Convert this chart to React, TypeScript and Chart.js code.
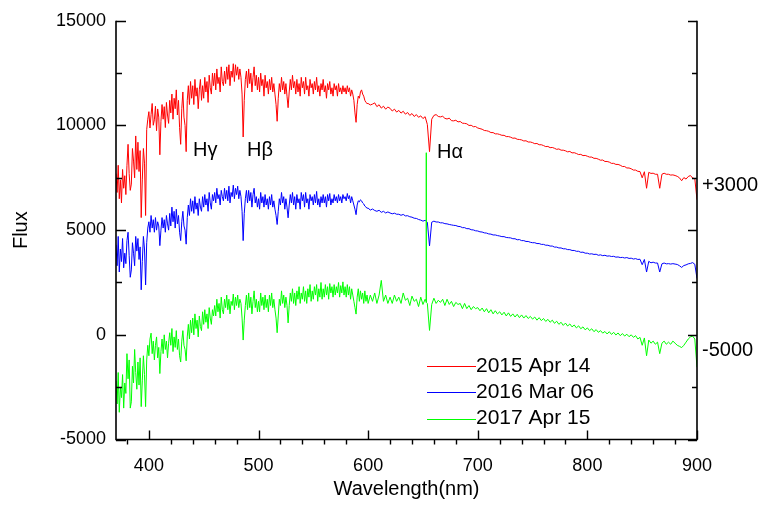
import { useEffect, useRef } from "react";
import { Chart, registerables } from "chart.js";

Chart.register(...registerables);

const FONT = '"Liberation Sans", Arial, Helvetica, sans-serif';

// Blue part of the spectra: 370-599 nm every 1 nm
const denseStart = 370;
const denseStep = 1;
// Red part: 600-900 nm every 2 nm
const sparseStart = 600;
const sparseStep = 2;

// ---- 2015 Apr 14 (+3000) ----
const apr2015Blue = [
  7700, 6800, 8100, 6500, 7400, 6300, 7900, 7000, 7600, 6700,
  8100, 9100, 7700, 6900, 7200, 8900, 8300, 7500, 9500, 7900,
  9200, 7800, 8800, 5600, 7400, 8900, 8200, 5700, 9800, 10300,
  10660, 9880, 10530, 11050, 10010, 10270, 10920, 9750, 10790, 10400,
  8600, 10200, 11000, 10300, 10900, 9900, 11100, 10500, 10100, 11200,
  10600, 11500, 10300, 11300, 10800, 11700, 10500, 11200, 9900, 9100,
  10800, 11600, 10400, 10000, 8750, 11200, 11900, 11000, 12100, 11300,
  11900, 11000, 12200, 11400, 11800, 10800, 11700, 12200, 11200, 11900,
  11300, 12300, 11600, 12100, 11100, 12400, 11800, 11500, 12500, 11900,
  12500, 11700, 12700, 12000, 12300, 11600, 12800, 12100, 11900, 12600,
  12000, 12800, 12200, 12900, 11900, 12600, 12300, 12950, 12100, 12900,
  12400, 12800, 12200, 12700, 12300, 11500, 9450, 11200, 12200, 12600,
  11800, 12700, 12000, 12500, 11600, 12300, 12800, 11900, 12400, 11700,
  12300, 11600, 12500, 11900, 12200, 11400, 12400, 11800, 12100, 11500,
  12200, 11700, 12300, 11600, 12000, 11500, 11000, 10200, 11300, 12000,
  11600, 12300, 11700, 12100, 11500, 12000, 11400, 10850, 11600, 12200,
  11700, 12400, 11800, 12100, 11500, 12200, 11600, 12000, 11400, 12300,
  11800, 12100, 11500, 12300, 11700, 11900, 11400, 12200, 11800, 12000,
  11500, 12100, 11700, 12300, 11600, 11900, 11400, 12000, 11700, 12200,
  11600, 11900, 11300, 12000, 11700, 12100, 11500, 11800, 11400, 12000,
  11700, 11900, 11400, 12000, 11600, 11800, 11500, 11900, 11600, 11800,
  11500, 11900, 11600, 11800, 11400, 11700, 11500, 11200, 10600, 10150,
  11000, 11400, 11300, 11600, 11700, 11500, 11400, 11200, 11100, 11050,
];
const apr2015Red = [
  11050, 10980, 11020, 11080, 10900,
  10990, 10830, 10920, 10780, 10880, 10820, 10690, 10780, 10640, 10720,
  10590, 10680, 10540, 10620, 10480, 10570, 10430, 10520, 10390, 10460,
  10330, 10420, 10050, 8750, 10300, 10480, 10520, 10430, 10410, 10440,
  10340, 10310, 10350, 10230, 10220, 10250, 10170, 10190, 10110, 10100,
  10080, 10000, 10010, 9940, 9950, 9880, 9850, 9820, 9760, 9750,
  9720, 9660, 9660, 9600, 9600, 9570, 9530, 9530, 9470, 9470,
  9440, 9390, 9400, 9340, 9330, 9310, 9260, 9270, 9210, 9210,
  9180, 9130, 9140, 9080, 9080, 9040, 8990, 9000, 8940, 8950,
  8910, 8860, 8880, 8820, 8820, 8790, 8740, 8760, 8690, 8700,
  8660, 8610, 8620, 8560, 8570, 8530, 8490, 8490, 8430, 8430,
  8390, 8340, 8350, 8280, 8280, 8250, 8190, 8190, 8140, 8140,
  8100, 8040, 8040, 7970, 7970, 7930, 7870, 7870, 7810, 7800,
  7500, 7790, 7000, 7760, 7710, 7720, 7670, 7670, 7000, 7670,
  7720, 7670, 7670, 7630, 7640, 7610, 7570, 7500, 7360, 7510,
  7440, 7560, 7610, 7490, 7460, 6450,
];

// ---- 2016 Mar 06 ----
const mar2016Blue = [
  4300, 3300, 4700, 3000, 4100, 3500, 4600, 3200, 3900, 3400,
  4500, 4900, 3800, 2750, 3100, 4400, 3900, 3300, 4700, 4000,
  4600, 3600, 4200, 2150, 3500, 4700, 4100, 2380, 4400, 5100,
  5400, 4900, 5700, 5100, 5500, 4900, 5600, 5000, 5400, 5200,
  4260, 5000, 5600, 5100, 5500, 4900, 5700, 5300, 5000, 5800,
  5200, 6100, 5400, 5900, 5100, 6000, 5300, 5700, 4900, 4500,
  5400, 5900, 5200, 5000, 4330, 5600, 6200, 5700, 6500, 5900,
  6400, 5800, 6600, 6000, 6300, 5700, 6500, 6100, 5900, 6600,
  6100, 6700, 6200, 6500, 5900, 6800, 6300, 6000, 6700, 6400,
  6800, 6300, 7000, 6500, 6700, 6200, 6900, 6600, 6400, 7000,
  6500, 6900, 6400, 7100, 6300, 6800, 6600, 7150, 6500, 7000,
  6700, 7100, 6500, 6900, 6600, 5900, 4500, 5800, 6500, 6900,
  6300, 6900, 6400, 6800, 6100, 6700, 7000, 6300, 6600, 6100,
  6500, 6000, 6800, 6300, 6600, 6100, 6700, 6200, 6500, 6000,
  6600, 6200, 6700, 6100, 6400, 6000, 5700, 5270, 5900, 6500,
  6200, 6800, 6300, 6600, 6000, 6500, 6100, 5590, 6200, 6700,
  6300, 6800, 6200, 6600, 6000, 6700, 6300, 6500, 6000, 6800,
  6400, 6700, 6100, 6800, 6300, 6500, 6000, 6700, 6400, 6600,
  6200, 6700, 6300, 6850, 6200, 6500, 6100, 6600, 6300, 6700,
  6300, 6600, 6100, 6700, 6400, 6750, 6200, 6500, 6300, 6700,
  6400, 6600, 6300, 6700, 6400, 6600, 6300, 6700, 6500, 6600,
  6400, 6750, 6500, 6650, 6300, 6600, 6400, 6200, 6000, 5740,
  6200, 6400, 6350, 6450, 6400, 6300, 6250, 6150, 6100, 6050,
];
const mar2016Red = [
  6050, 5960, 6010, 5940, 5900,
  5950, 5850, 5900, 5820, 5870, 5820, 5780, 5810, 5760, 5760,
  5710, 5750, 5680, 5690, 5640, 5620, 5570, 5560, 5510, 5480,
  5430, 5470, 5380, 4250, 5380, 5430, 5390, 5390, 5350, 5350,
  5310, 5300, 5270, 5250, 5230, 5220, 5180, 5170, 5120, 5120,
  5070, 5070, 5020, 5010, 4970, 4960, 4920, 4910, 4870, 4860,
  4820, 4810, 4770, 4770, 4740, 4720, 4690, 4690, 4650, 4640,
  4630, 4590, 4590, 4540, 4550, 4500, 4500, 4460, 4460, 4420,
  4400, 4400, 4360, 4360, 4320, 4320, 4280, 4280, 4240, 4240,
  4190, 4190, 4150, 4150, 4110, 4110, 4070, 4070, 4030, 4030,
  3990, 3990, 3940, 3950, 3900, 3900, 3860, 3870, 3840, 3850,
  3800, 3820, 3780, 3800, 3760, 3770, 3740, 3750, 3710, 3720,
  3690, 3700, 3670, 3690, 3650, 3660, 3620, 3640, 3600, 3610,
  3350, 3600, 3000, 3510, 3440, 3470, 3430, 3430, 3000, 3390,
  3430, 3390, 3400, 3380, 3400, 3380, 3360, 3300, 3220, 3310,
  3340, 3390, 3410, 3450, 3370, 2690,
];

// ---- 2017 Apr 15 (-5000) ----
const apr2017Blue = [
  -2200, -3300, -1800, -3700, -2500, -3000, -1900, -3500, -2300, -2800,
  -900, -2100, -1200, -3500, -3200, -1500, -2300, -700, -1800, -2600,
  -1300, -2400, -1100, -3430, -2200, -1000, -1900, -3430, -1200, -500,
  -1000, -200, 80, -900, -300, -1200, -500, -100, -1100, -600,
  -1850, -800, -200, -900, 0, -700, -300, -1100, -400, 100,
  -500, 300, -800, -100, -600, 200, -700, -200, -1000, -1300,
  -300, 200, -500, -700, -1240, -100, 500, -200, 700, 100,
  800, 0, 1000, 300, 700, -100, 900, 400, 200, 1100,
  500, 1200, 600, 1000, 300, 1300, 800, 500, 1200, 900,
  1400, 900, 1700, 1100, 1500, 800, 1800, 1200, 1000, 1700,
  1300, 1900, 1200, 1700, 1000, 1600, 1400, 1950, 1200, 1800,
  1400, 1900, 1300, 1700, 1500, 800, -250, 700, 1400, 1900,
  1200, 2000, 1300, 1800, 1000, 1600, 2100, 1300, 1700, 1100,
  1600, 1100, 2000, 1400, 1800, 1200, 1900, 1300, 1700, 1100,
  1900, 1400, 2000, 1300, 1700, 1200, 800, 100, 900, 1700,
  1400, 2100, 1500, 1900, 1300, 1800, 1400, 570, 1400, 2000,
  1600, 2200, 1500, 2000, 1400, 2100, 1700, 2300, 1500, 2000,
  1700, 2300, 1600, 2100, 1500, 2200, 1800, 2400, 1600, 2100,
  1700, 2300, 1900, 2400, 1600, 2200, 1800, 2500, 1700, 2200,
  1800, 2400, 1900, 2300, 1700, 2450, 2000, 2300, 1800, 2400,
  1900, 2300, 2000, 2500, 1800, 2350, 2000, 2530, 1900, 2300,
  1800, 2400, 1900, 2300, 1700, 2200, 1900, 1600, 1300, 990,
  1800, 2200, 1600, 2100, 1700, 2000, 1500, 2100, 1600, 1900,
];
const apr2017Red = [
  1500, 1900, 1600, 2000, 1500,
  1900, 2600, 1600, 1900, 1500, 1800, 1500, 1900, 1600, 1800,
  1500, 2000, 1650, 1750, 1400, 1850, 1600, 1700, 1350, 1800,
  1450, 1700, 1500, 210, 1450, 1750, 1500, 1650, 1550, 1700,
  1400, 1700, 1450, 1600, 1350, 1550, 1450, 1500, 1250, 1500,
  1250, 1400, 1200, 1350, 1250, 1300, 1150, 1280, 1100, 1250,
  1050, 1200, 1000, 1150, 1000, 1100, 950, 1080, 900, 1050,
  880, 1000, 850, 980, 820, 950, 800, 920, 780, 880,
  750, 850, 700, 820, 680, 780, 640, 740, 600, 700,
  550, 650, 500, 600, 450, 560, 420, 520, 380, 470,
  330, 430, 290, 380, 240, 330, 200, 290, 150, 250,
  120, 200, 80, 160, 40, 150, 20, 120, -10, 90,
  -40, 60, -60, 30, -90, 0, -120, -40, -200, -120,
  -500, -150, -1000, -250, -400, -300, -450, -350, -900, -400,
  -300, -450, -350, -450, -300, -400, -500, -550, -610, -500,
  -350, -200, -100, -60, -200, -1550,
];

// Narrow emission spike in the 2017 spectrum
const spikeWavelengths = [652.9, 653.0, 653.1];
const spikeFlux = [1600, 8700, 1550];

const seriesLabels = ["2015 Apr 14", "2016 Mar 06", "2017 Apr 15"];
const seriesColors = ["#ff0000", "#0000ff", "#00ff00"];

const xTickValues = [400, 500, 600, 700, 800, 900];
const yTickValues = [-5000, 0, 5000, 10000, 15000];

const lineNames = ["H\u03b3", "H\u03b2", "H\u03b1"];
const lineNameWavelengths = [440.3, 489.5, 662.9];
const lineNameFlux = [8800, 8800, 8690];

const offsetNames = ["+3000", "-5000"];
const offsetNameFlux = [7110, -730];

function toPoints(values: number[], start: number, step: number) {
  return values.map((v, i) => ({ x: start + i * step, y: v }));
}

function spectrum(blue: number[], red: number[]) {
  return toPoints(blue, denseStart, denseStep).concat(toPoints(red, sparseStart, sparseStep));
}

const decorPlugin = {
  id: "decor",
  afterDraw(chart: any) {
    const { ctx, chartArea: ca, scales } = chart;
    const xs = scales.x;
    const ys = scales.y;
    ctx.save();
    ctx.strokeStyle = "#000";
    ctx.lineWidth = 1.6;
    ctx.beginPath();
    ctx.moveTo(ca.left, ca.top);
    ctx.lineTo(ca.left, ca.bottom);
    ctx.lineTo(ca.right, ca.bottom);
    ctx.lineTo(ca.right, ca.top);
    ctx.stroke();

    ctx.lineWidth = 1.4;
    ctx.beginPath();
    for (let v = -5000; v <= 15000; v += 2500) {
      const py = Math.round(ys.getPixelForValue(v)) + 0.5;
      const major = v % 5000 === 0;
      ctx.moveTo(ca.left, py);
      ctx.lineTo(ca.left + (major ? 10 : 6), py);
      ctx.moveTo(ca.right, py);
      ctx.lineTo(ca.right - (major ? 9 : 5), py);
    }
    for (let v = 380; v <= 900; v += 20) {
      const px = Math.round(xs.getPixelForValue(v)) + 0.5;
      if (v % 100 === 0) {
        ctx.moveTo(px, ca.bottom);
        ctx.lineTo(px, ca.bottom - 9);
      } else {
        ctx.moveTo(px, ca.bottom);
        ctx.lineTo(px, ca.bottom + 5);
      }
    }
    ctx.stroke();

    ctx.fillStyle = "#000";
    ctx.textBaseline = "middle";
    ctx.textAlign = "left";
    ctx.font = `20px ${FONT}`;
    lineNames.forEach((t, i) => {
      ctx.fillText(t, xs.getPixelForValue(lineNameWavelengths[i]), ys.getPixelForValue(lineNameFlux[i]));
    });
    offsetNames.forEach((t, i) => {
      ctx.fillText(t, ca.right + 5, ys.getPixelForValue(offsetNameFlux[i]));
    });

    ctx.font = `21px ${FONT}`;
    const lx = 427;
    const ly = 366;
    chart.data.datasets.forEach((ds: any, i: number) => {
      const y = ly + i * 26.3;
      ctx.strokeStyle = ds.borderColor;
      ctx.lineWidth = 1;
      ctx.beginPath();
      ctx.moveTo(lx, Math.round(y) + 0.5);
      ctx.lineTo(lx + 49, Math.round(y) + 0.5);
      ctx.stroke();
      ctx.fillStyle = "#000";
      ctx.fillText(ds.label, lx + 49, y);
    });
    ctx.restore();
  },
};

export default function App() {
  const canvasRef = useRef<HTMLCanvasElement | null>(null);

  useEffect(() => {
    const canvas = canvasRef.current;
    if (!canvas) return;
    const green = spectrum(apr2017Blue, apr2017Red)
      .concat(spikeWavelengths.map((w, i) => ({ x: w, y: spikeFlux[i] })))
      .sort((a, b) => a.x - b.x);
    const seriesData = [spectrum(apr2015Blue, apr2015Red), spectrum(mar2016Blue, mar2016Red), green];

    const chart = new Chart(canvas, {
      type: "line",
      data: {
        datasets: seriesData.map((d, i) => ({
          label: seriesLabels[i],
          data: d,
          borderColor: seriesColors[i],
          backgroundColor: seriesColors[i],
          borderWidth: 1,
          pointRadius: 0,
          tension: 0,
          fill: false,
          order: 2 - i,
        })),
      },
      options: {
        responsive: false,
        animation: false,
        events: [],
        layout: { padding: { top: 15, right: 64, bottom: 0, left: 0 } },
        plugins: {
          legend: { display: false },
          tooltip: { enabled: false },
        },
        scales: {
          x: {
            type: "linear",
            min: 370,
            max: 900,
            grid: { display: false, drawTicks: false },
            border: { display: false },
            afterBuildTicks: (s: any) => {
              s.ticks = xTickValues.map((v) => ({ value: v }));
            },
            afterFit: (s: any) => {
              s.height = 66.5;
            },
            ticks: {
              color: "#000",
              padding: 16,
              maxRotation: 0,
              font: { family: FONT, size: 18 },
              callback: (v: any) => String(v),
            },
            title: {
              display: true,
              text: "Wavelength(nm)",
              color: "#000",
              font: { family: FONT, size: 20 },
              padding: { top: 0, bottom: 5 },
            },
          },
          y: {
            type: "linear",
            min: -5000,
            max: 15000,
            grid: { display: false, drawTicks: false },
            border: { display: false },
            afterBuildTicks: (s: any) => {
              s.ticks = yTickValues.map((v) => ({ value: v }));
            },
            afterFit: (s: any) => {
              s.width = 116;
            },
            ticks: {
              color: "#000",
              padding: 10,
              font: { family: FONT, size: 18 },
              callback: (v: any) => String(v),
            },
            title: {
              display: true,
              text: "Flux",
              color: "#000",
              font: { family: FONT, size: 20 },
              padding: { top: 9, bottom: 0 },
            },
          },
        },
      },
      plugins: [decorPlugin],
    });
    return () => chart.destroy();
  }, []);

  return (
    <div style={{ position: "absolute", left: 0, top: 0, width: 761, height: 506, background: "#fff" }}>
      <canvas ref={canvasRef} width={761} height={506} />
    </div>
  );
}
